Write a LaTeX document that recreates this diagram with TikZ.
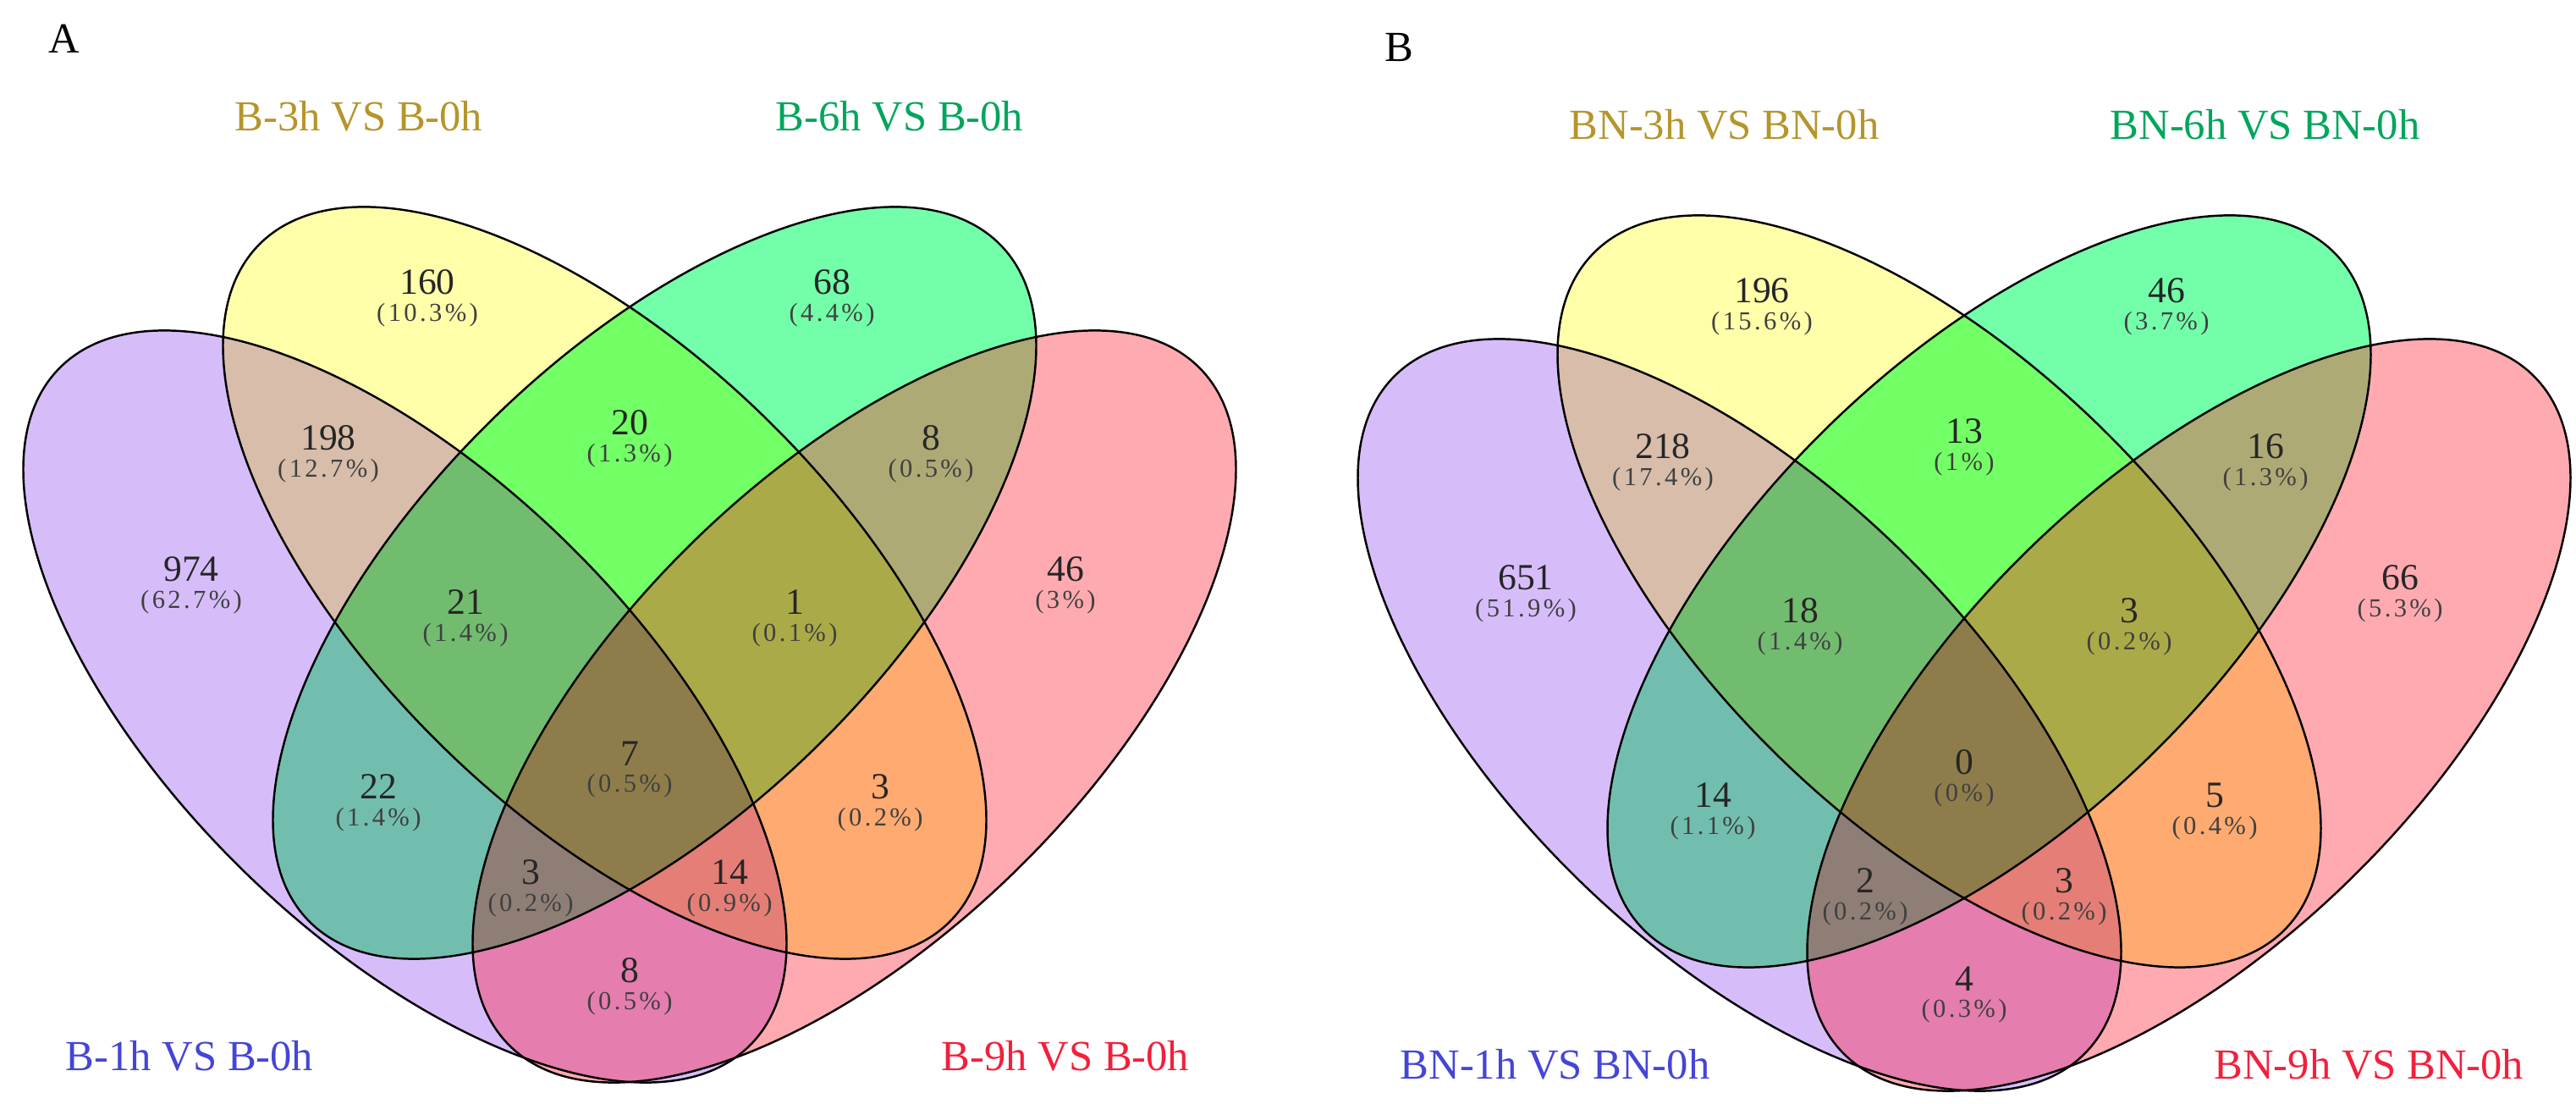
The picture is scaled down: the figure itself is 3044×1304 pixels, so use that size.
\documentclass[tikz,border=0pt]{standalone}
\usepackage{fontspec}
\setmainfont{Liberation Serif}
\newfontfamily\pctfont[LetterSpace=11]{Liberation Serif}
\usetikzlibrary{positioning}

% region colours (one per overlap)
\definecolor{cP}{HTML}{D6BDFA}
\definecolor{cY}{HTML}{FFFFAA}
\definecolor{cG}{HTML}{73FFAA}
\definecolor{cK}{HTML}{FFAAB0}
\definecolor{cPY}{HTML}{D8BDAA}
\definecolor{cPG}{HTML}{72BEAE}
\definecolor{cPK}{HTML}{E57DAE}
\definecolor{cYG}{HTML}{73FF66}
\definecolor{cYK}{HTML}{FFAA70}
\definecolor{cGK}{HTML}{ADAA75}
\definecolor{cPYG}{HTML}{72BC70}
\definecolor{cPYK}{HTML}{E57E76}
\definecolor{cPGK}{HTML}{8E7E76}
\definecolor{cYGK}{HTML}{ABAA48}
\definecolor{cPYGK}{HTML}{8E7D4A}
% set name colours
\definecolor{tP}{HTML}{4545D6}
\definecolor{tY}{HTML}{B5952C}
\definecolor{tG}{HTML}{00A65C}
\definecolor{tK}{HTML}{F2203C}

\newcommand\vennoval{(0,0) ellipse (5.71cm and 2.72cm)}
% fills from single sets up to the four-way overlap, then the rims
\newcommand\vennshapes{%
  \fill[eP,fill=cP]\vennoval; \fill[eY,fill=cY]\vennoval;
  \fill[eG,fill=cG]\vennoval; \fill[eK,fill=cK]\vennoval;
  \begin{scope}\clip[eP]\vennoval;
    \fill[eY,fill=cPY]\vennoval; \fill[eG,fill=cPG]\vennoval; \fill[eK,fill=cPK]\vennoval;
  \end{scope}
  \begin{scope}\clip[eY]\vennoval;
    \fill[eG,fill=cYG]\vennoval; \fill[eK,fill=cYK]\vennoval;
  \end{scope}
  \begin{scope}\clip[eG]\vennoval; \fill[eK,fill=cGK]\vennoval; \end{scope}
  \begin{scope}\clip[eP]\vennoval; \clip[eY]\vennoval;
    \fill[eG,fill=cPYG]\vennoval; \fill[eK,fill=cPYK]\vennoval;
  \end{scope}
  \begin{scope}\clip[eP]\vennoval; \clip[eG]\vennoval; \fill[eK,fill=cPGK]\vennoval; \end{scope}
  \begin{scope}\clip[eY]\vennoval; \clip[eG]\vennoval; \fill[eK,fill=cYGK]\vennoval; \end{scope}
  \begin{scope}\clip[eP]\vennoval; \clip[eY]\vennoval; \clip[eG]\vennoval;
    \fill[eK,fill=cPYGK]\vennoval;
  \end{scope}
  \draw[rim,eP]\vennoval; \draw[rim,eY]\vennoval;
  \draw[rim,eG]\vennoval; \draw[rim,eK]\vennoval;
}

\begin{document}
\begin{tikzpicture}[x=0.01cm, y=-0.01cm, node distance=0.9mm,
    eP/.style={shift={(478.5,834.5)}, rotate=-44.3},
    eY/.style={shift={(714.5,688.5)}, rotate=-44.3},
    eG/.style={shift={(773.5,688.5)}, rotate=44.3},
    eK/.style={shift={(1009.5,834.5)}, rotate=44.3},
    rim/.style={draw=black, line width=0.7pt}]
  \tikzstyle{cnt}=[inner sep=0pt, text=black!85, font=\fontsize{12.4}{14}\selectfont]
  \tikzstyle{pct}=[inner sep=0pt, text=black!75, font=\pctfont\fontsize{8.7}{10}\selectfont]
  \tikzstyle{tag}=[inner sep=0pt, font=\fontsize{14.4}{17}\selectfont]

  \fill[white] (0,0) rectangle (3044,1304);
  \useasboundingbox (0,0) rectangle (3044,1304);

  % panel A
  \begin{scope}
    \vennshapes
    \node[tag] (A) at (76,46) {A};
    \node[tag, text=tY, anchor=west] (aYset) at (277,137) {B-3h VS B-0h};
    \node[tag, text=tG, anchor=west] (aGset) at (916,137) {B-6h VS B-0h};
    \node[tag, text=tP, anchor=west] (aPset) at (77,1247) {B-1h VS B-0h};
    \node[tag, text=tK, anchor=east] (aKset) at (1406,1247) {B-9h VS B-0h};

    \node[cnt] (aY) at (505,333) {160};     \node[pct, below=of aY] (aYpc) {(10.3\%)};
    \node[cnt] (aG) at (983,333) {68};      \node[pct, below=of aG] (aGpc) {(4.4\%)};
    \node[cnt] (aPY) at (388,517) {198};    \node[pct, below=of aPY] (aPYpc) {(12.7\%)};
    \node[cnt] (aYG) at (744,499) {20};     \node[pct, below=of aYG] (aYGpc) {(1.3\%)};
    \node[cnt] (aGK) at (1100,517) {8};     \node[pct, below=of aGK] (aGKpc) {(0.5\%)};
    \node[cnt] (aP) at (226,672) {974};     \node[pct, below=of aP] (aPpc) {(62.7\%)};
    \node[cnt] (aPYG) at (550,711) {21};    \node[pct, below=of aPYG] (aPYGpc) {(1.4\%)};
    \node[cnt] (aYGK) at (939,711) {1};     \node[pct, below=of aYGK] (aYGKpc) {(0.1\%)};
    \node[cnt] (aK) at (1259,672) {46};     \node[pct, below=of aK] (aKpc) {(3\%)};
    \node[cnt] (aPG) at (447,929) {22};     \node[pct, below=of aPG] (aPGpc) {(1.4\%)};
    \node[cnt] (aPYGK) at (744,890) {7};    \node[pct, below=of aPYGK] (aPYGKpc) {(0.5\%)};
    \node[cnt] (aYK) at (1040,929) {3};     \node[pct, below=of aYK] (aYKpc) {(0.2\%)};
    \node[cnt] (aPGK) at (627,1030) {3};    \node[pct, below=of aPGK] (aPGKpc) {(0.2\%)};
    \node[cnt] (aPYK) at (862,1030) {14};   \node[pct, below=of aPYK] (aPYKpc) {(0.9\%)};
    \node[cnt] (aPK) at (744,1146) {8};     \node[pct, below=of aPK] (aPKpc) {(0.5\%)};
  \end{scope}

  % panel B
  \begin{scope}[shift={(1577,10)}]
    \vennshapes
    \node[tag] (B) at (76,46) {B};
    \node[tag, text=tY, anchor=west] (bYset) at (277,137) {BN-3h VS BN-0h};
    \node[tag, text=tG, anchor=west] (bGset) at (916,137) {BN-6h VS BN-0h};
    \node[tag, text=tP, anchor=west] (bPset) at (77,1247) {BN-1h VS BN-0h};
    \node[tag, text=tK, anchor=east] (bKset) at (1406,1247) {BN-9h VS BN-0h};

    \node[cnt] (bY) at (505,333) {196};     \node[pct, below=of bY] (bYpc) {(15.6\%)};
    \node[cnt] (bG) at (983,333) {46};      \node[pct, below=of bG] (bGpc) {(3.7\%)};
    \node[cnt] (bPY) at (388,517) {218};    \node[pct, below=of bPY] (bPYpc) {(17.4\%)};
    \node[cnt] (bYG) at (744,499) {13};     \node[pct, below=of bYG] (bYGpc) {(1\%)};
    \node[cnt] (bGK) at (1100,517) {16};    \node[pct, below=of bGK] (bGKpc) {(1.3\%)};
    \node[cnt] (bP) at (226,672) {651};     \node[pct, below=of bP] (bPpc) {(51.9\%)};
    \node[cnt] (bPYG) at (550,711) {18};    \node[pct, below=of bPYG] (bPYGpc) {(1.4\%)};
    \node[cnt] (bYGK) at (939,711) {3};     \node[pct, below=of bYGK] (bYGKpc) {(0.2\%)};
    \node[cnt] (bK) at (1259,672) {66};     \node[pct, below=of bK] (bKpc) {(5.3\%)};
    \node[cnt] (bPG) at (447,929) {14};     \node[pct, below=of bPG] (bPGpc) {(1.1\%)};
    \node[cnt] (bPYGK) at (744,890) {0};    \node[pct, below=of bPYGK] (bPYGKpc) {(0\%)};
    \node[cnt] (bYK) at (1040,929) {5};     \node[pct, below=of bYK] (bYKpc) {(0.4\%)};
    \node[cnt] (bPGK) at (627,1030) {2};    \node[pct, below=of bPGK] (bPGKpc) {(0.2\%)};
    \node[cnt] (bPYK) at (862,1030) {3};    \node[pct, below=of bPYK] (bPYKpc) {(0.2\%)};
    \node[cnt] (bPK) at (744,1146) {4};     \node[pct, below=of bPK] (bPKpc) {(0.3\%)};
  \end{scope}
\end{tikzpicture}
\end{document}
